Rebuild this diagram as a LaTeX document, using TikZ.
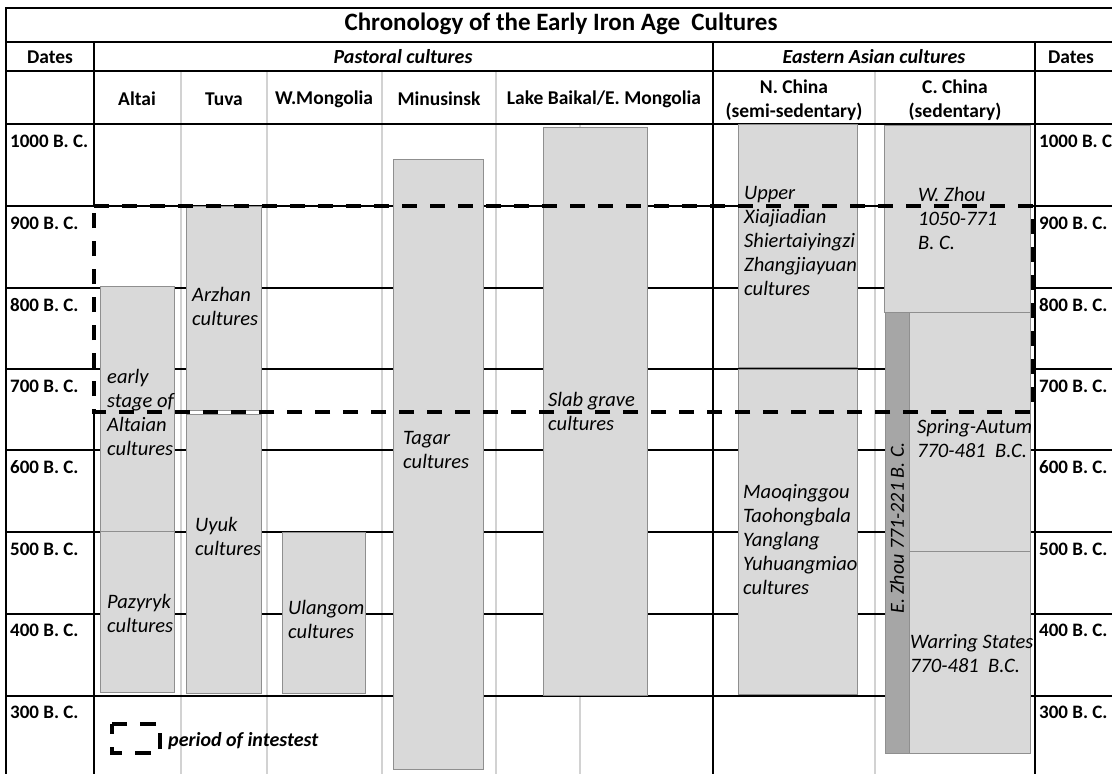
\documentclass[tikz,border=0pt]{standalone}
\usepackage{fontspec}
\setmainfont{Carlito}
\definecolor{boxfill}{HTML}{D9D9D9}
\definecolor{boxedge}{HTML}{8F8F8F}
\definecolor{darkfill}{HTML}{A6A6A6}
\definecolor{sepgray}{HTML}{D2D2D2}
\begin{document}
\begin{tikzpicture}[x=1pt,y=-1pt,
  blk/.style={line width=1.8pt, black},
  sepline/.style={line width=2.2pt, draw=sepgray},
  cbox/.style={draw=boxedge, line width=1pt, fill=boxfill},
  dbox/.style={draw=boxedge, line width=1pt, fill=darkfill},
  lbl/.style={anchor=north west, inner sep=0pt, align=left, font=\itshape\fontsize{20.5}{24}\selectfont},
  datelbl/.style={anchor=west, inner sep=0pt, font=\bfseries\fontsize{19}{22}\selectfont},
  hdr/.style={inner sep=0pt, align=center, font=\bfseries\fontsize{19.5}{24}\selectfont},
  grp/.style={inner sep=0pt, font=\bfseries\itshape\fontsize{20}{24}\selectfont},
  period/.style={line width=4pt, dash pattern=on 15pt off 13pt}
]
\useasboundingbox (0,0) rectangle (1112,774);
\fill[white] (0,0) rectangle (1112,774);

% light gray column separators
\foreach \xx in {181,267,382,496,875} \draw[sepline] (\xx,71) -- (\xx,780);
\draw[sepline] (580,124) -- (580,780);

% black row lines
\foreach \yy in {8,42,71,124,206,288,369,450,532,614,696} \draw[blk] (6,\yy) -- (1120,\yy);

% black vertical lines
\draw[blk] (6,7) -- (6,780);
\draw[blk] (94,42) -- (94,206);
\draw[blk] (94,412) -- (94,780);
\draw[blk] (713,42) -- (713,780);
\draw[blk] (1035,42) -- (1035,780);

% header texts
\node[hdr, font=\bfseries\fontsize{25}{28}\selectfont] (title) at (561,24) {Chronology of the Early Iron Age\ \ Cultures};
\node[hdr] (datesL) at (50,57) {Dates};
\node[hdr] (datesR) at (1071,57) {Dates};
\node[grp] (pastoral) at (403,57) {Pastoral cultures};
\node[grp] (eastern) at (874,57) {Eastern Asian cultures};
\node[hdr] (altai) at (137,99) {Altai};
\node[hdr] (tuva) at (224,99) {Tuva};
\node[hdr] (wmong) at (324,99) {W.Mongolia};
\node[hdr] (minus) at (439,99) {Minusinsk};
\node[hdr] (baikal) at (604,99) {Lake Baikal/E. Mongolia};
\node[hdr] (nchina) at (794,100) {N. China\\(semi-sedentary)};
\node[hdr] (cchina) at (955,100) {C. China\\(sedentary)};

% date labels
\foreach \yy/\tt [count=\i] in {141/1000 B. C.,223/900 B. C.,305/800 B. C.,386/700 B. C.,467/600 B. C.,549/500 B. C.,630/400 B. C.,712/300 B. C.}{
  \node[datelbl] (dl\i) at (10,\yy) {\tt};
  \node[datelbl] (dr\i) at (1039,\yy) {\tt};
}

% culture boxes
\path[cbox] (100,286) rectangle (174,531);
\path[cbox] (100,531) rectangle (174,692);
\path[cbox] (186,206) rectangle (261,410);
\path[cbox] (186,414) rectangle (261,693);
\path[cbox] (282,532) rectangle (365,693);
\path[cbox] (393,159) rectangle (483,769);
\path[cbox] (543,127) rectangle (647,695);
\path[cbox] (738,124) rectangle (857,367);
\path[cbox] (738,369) rectangle (857,694);
\path[cbox] (884,125) rectangle (1030,312);
\path[dbox] (885,312) rectangle (909,753);
\path[cbox] (909,312) rectangle (1030,551);
\path[cbox] (909,551) rectangle (1030,753);

% culture labels
\node[lbl] (early) at (107,366) {\strut early\\stage of\\Altaian\\cultures};
\node[lbl] (pazyryk) at (107,591) {\strut Pazyryk\\cultures};
\node[lbl] (arzhan) at (192,284) {\strut Arzhan\\cultures};
\node[lbl] (uyuk) at (195,514) {\strut Uyuk\\cultures};
\node[lbl] (ulangom) at (288,597) {\strut Ulangom\\cultures};
\node[lbl] (tagar) at (403,427) {\strut Tagar\\cultures};
\node[lbl] (slab) at (548,389) {\strut Slab grave\\cultures};
\node[lbl] (upper) at (744,182) {\strut Upper\\Xiajiadian\\Shiertaiyingzi\\Zhangjiayuan\\cultures};
\node[lbl] (mao) at (743,481) {\strut Maoqinggou\\Taohongbala\\Yanglang\\Yuhuangmiao\\cultures};
\node[lbl] (wzhou) at (918,184) {\strut W. Zhou\\1050-771\\B. C.};
\node[lbl] (spring) at (917,416) {\strut Spring-Autum\\770-481~ B.C.};
\node[lbl] (warring) at (910,631) {\strut Warring States\\770-481~ B.C.};
\node[inner sep=0pt, rotate=90, font=\itshape\fontsize{20}{22}\selectfont] (ezhou) at (897,528) {E. Zhou 771-221 B. C.};

% period of interest
\draw[period] (94,206) -- (1033,206) -- (1033,412) -- (94,412) -- cycle;

% legend
\draw[line width=3.5pt, dash pattern=on 16pt off 13pt, dash phase=6pt] (112,724) rectangle (160,753);
\node[anchor=west, inner sep=0pt, font=\bfseries\itshape\fontsize{20}{22}\selectfont] (legend) at (168,741) {period of intestest};
\end{tikzpicture}
\end{document}
